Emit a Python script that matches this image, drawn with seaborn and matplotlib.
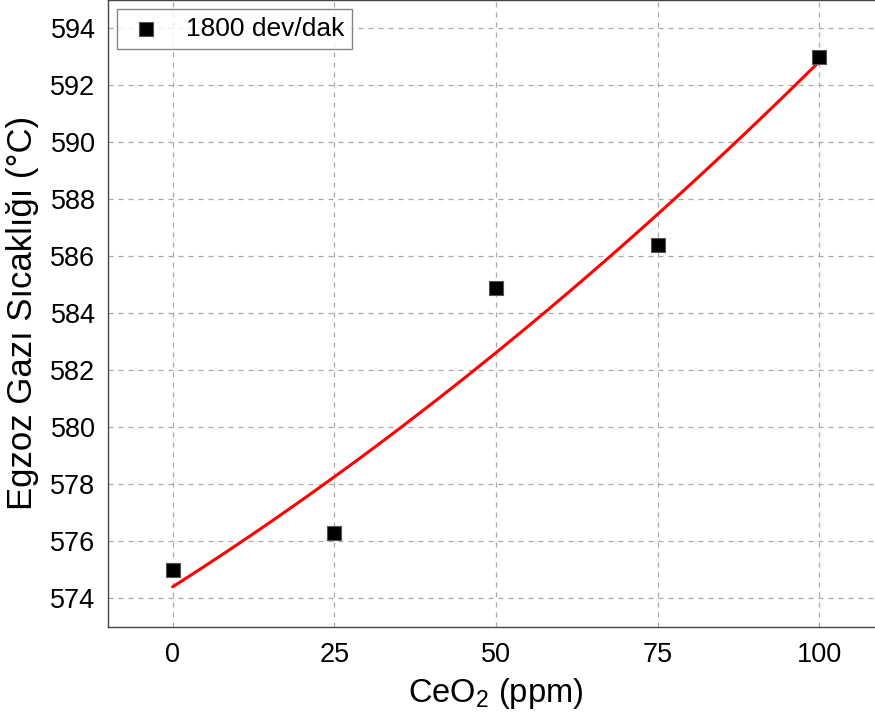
import matplotlib
matplotlib.use("Agg")
import matplotlib.pyplot as plt
import seaborn as sns
import pandas as pd

# CeO2 dosage (ppm) and measured exhaust gas temperature (°C) at 1800 rpm
ceo2_ppm = [0, 25, 50, 75, 100]
egt_c = [575.0, 576.3, 584.9, 586.4, 593.0]
series_label = "1800 dev/dak"
x_ticks = [0, 25, 50, 75, 100]
y_ticks = [574, 576, 578, 580, 582, 584, 586, 588, 590, 592, 594]

df = pd.DataFrame({"ceo2": ceo2_ppm, "egt": egt_c})

sns.set_theme(style="white")
plt.rcParams["font.family"] = ["Liberation Sans", "DejaVu Sans"]
plt.rcParams["mathtext.fontset"] = "custom"
plt.rcParams["mathtext.rm"] = "Liberation Sans"
plt.rcParams["mathtext.it"] = "Liberation Sans"
plt.rcParams["text.color"] = "black"
plt.rcParams["axes.labelcolor"] = "black"

fig = plt.figure(figsize=(8.75, 7.26), dpi=100)
ax = fig.add_axes([108 / 875, 1 - 626.7 / 726, 776 / 875, 626.7 / 726])

# second-order fit through the measurements
sns.regplot(data=df, x="ceo2", y="egt", order=2, ci=None, scatter=False,
            truncate=True, color="#ff0000", line_kws={"lw": 2.2, "zorder": 3},
            ax=ax)
sns.scatterplot(data=df, x="ceo2", y="egt", marker="s", s=105, color="black",
                edgecolor="#555555", linewidth=0.8, label=series_label,
                zorder=4, ax=ax)

ax.set_xlim(-10, 110)
ax.set_ylim(573, 595)
ax.set_xticks(x_ticks)
ax.set_yticks(y_ticks)
ax.grid(True, linestyle=(0, (4, 4)), color="#a8a8a8", linewidth=0.9)
ax.set_axisbelow(True)

for s in ax.spines.values():
    s.set_color("#444444")
    s.set_linewidth(1.0)

ax.tick_params(axis="both", direction="in", length=8, width=1.0,
               colors="#333333", labelcolor="black", labelsize=19.5, pad=9)
ax.tick_params(axis="x", pad=11)

ax.set_xlabel("CeO$_2$ (ppm)", fontsize=23.5, labelpad=6)
ax.set_ylabel("Egzoz Gazı Sıcaklığı (°C)", fontsize=25, labelpad=8)

leg = ax.legend(loc="upper left", fontsize=19, frameon=True, fancybox=False,
                borderaxespad=0.35, handletextpad=0.7, borderpad=0.3,
                handlelength=1.6, markerscale=1.0)
leg.get_frame().set_edgecolor("#666666")
leg.get_frame().set_linewidth(1.0)

fig.savefig("out.png", dpi=100)
